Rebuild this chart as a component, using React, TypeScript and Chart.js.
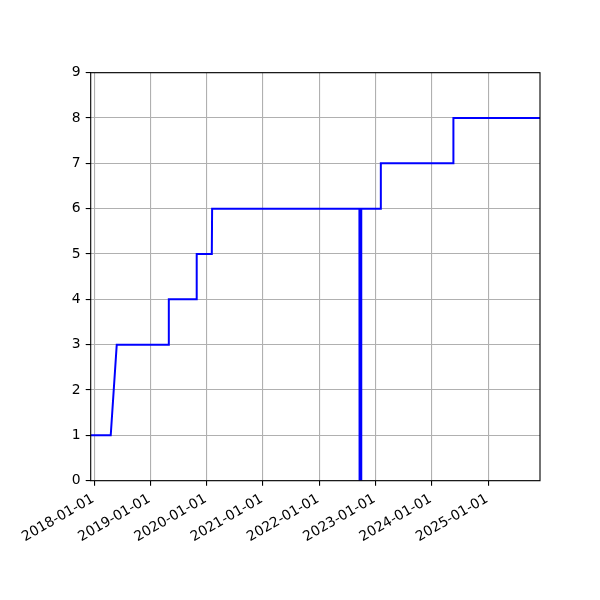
import React, { useEffect, useRef } from "react";
import { Chart, registerables } from "chart.js";

Chart.register(...registerables);

const pointDates = [
  "2017-12-10", "2018-04-19", "2018-05-28", "2019-04-29", "2019-05-01",
  "2019-10-27", "2019-10-29", "2020-02-04", "2020-02-06", "2022-09-19",
  "2022-09-20", "2022-09-30", "2022-10-01", "2023-02-03", "2023-02-05",
  "2024-05-19", "2024-05-21", "2025-12-04",
];
const pointValues = [1, 1, 3, 3, 4, 4, 5, 5, 6, 6, 0, 0, 6, 6, 7, 7, 8, 8];
const xTickLabels = [
  "2018-01-01", "2019-01-01", "2020-01-01", "2021-01-01",
  "2022-01-01", "2023-01-01", "2024-01-01", "2025-01-01",
];
const yTicks = [0, 1, 2, 3, 4, 5, 6, 7, 8, 9];

const toDay = (s: string) => {
  const [y, m, d] = s.split("-").map(Number);
  return Date.UTC(y, m - 1, d) / 86400000;
};

const boxPlugin = {
  id: "boxPlugin",
  afterDraw(chart: any) {
    const { ctx, chartArea } = chart;
    ctx.save();
    ctx.strokeStyle = "#000";
    ctx.lineWidth = 1.1;
    ctx.strokeRect(chartArea.left, chartArea.top, chartArea.right - chartArea.left, chartArea.bottom - chartArea.top);
    ctx.restore();
  },
};

export default function App() {
  const ref = useRef<HTMLCanvasElement | null>(null);
  useEffect(() => {
    if (!ref.current) return;
    const data = pointDates.map((d, i) => ({ x: toDay(d), y: pointValues[i] }));
    const font = { family: "DejaVu Sans", size: 13.9 };
    const chart = new Chart(ref.current, {
      type: "line",
      data: {
        datasets: [
          {
            data,
            borderColor: "#0000ff",
            borderWidth: 2,
            pointRadius: 0,
            tension: 0,
            fill: false,
          },
        ],
      },
      options: {
        animation: false,
        responsive: false,
        devicePixelRatio: 1,
        layout: { padding: { top: 72.7, right: 60, left: 0, bottom: 0 } },
        plugins: { legend: { display: false }, tooltip: { enabled: false } },
        scales: {
          x: {
            type: "linear",
            min: toDay(pointDates[0]),
            max: toDay(pointDates[pointDates.length - 1]),
            afterBuildTicks: (scale: any) => {
              scale.ticks = xTickLabels.map((l) => ({ value: toDay(l) }));
            },
            afterFit: (scale: any) => {
              scale.height = 119.3;
            },
            ticks: {
              autoSkip: false,
              maxRotation: 30,
              minRotation: 30,
              padding: 5,
              labelOffset: -1,
              color: "#000",
              font,
              callback: (_v: any, i: number) => xTickLabels[i],
            },
            grid: { color: "#b0b0b0", lineWidth: 1.1, tickColor: "#000", tickLength: 5, tickWidth: 1.1 },
            border: { display: false },
          },
          y: {
            type: "linear",
            min: 0,
            max: 9,
            afterBuildTicks: (scale: any) => {
              scale.ticks = yTicks.map((v) => ({ value: v }));
            },
            afterFit: (scale: any) => {
              scale.width = 90.7;
            },
            ticks: { padding: 5, color: "#000", font, callback: (v: any) => String(v) },
            grid: { color: "#b0b0b0", lineWidth: 1.1, tickColor: "#000", tickLength: 5, tickWidth: 1.1 },
            border: { display: false },
          },
        },
      },
      plugins: [boxPlugin],
    });
    return () => chart.destroy();
  }, []);
  return (
    <div style={{ position: "fixed", left: 0, top: 0, width: 600, height: 600, background: "#fff" }}>
      <canvas ref={ref} width={600} height={600} />
    </div>
  );
}
